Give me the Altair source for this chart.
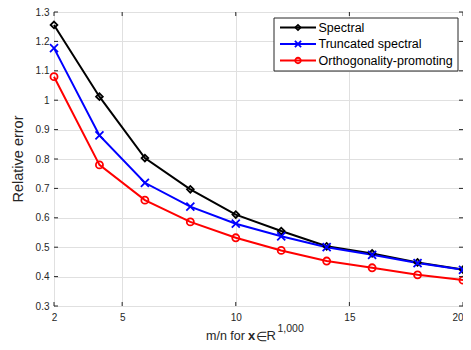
import altair as alt
import pandas as pd

# ---- data ----
ratios = [2, 4, 6, 8, 10, 12, 14, 16, 18, 20]
spectral = [1.256, 1.012, 0.803, 0.697, 0.611, 0.555, 0.503, 0.479, 0.448, 0.424]
truncated = [1.177, 0.880, 0.719, 0.638, 0.580, 0.537, 0.500, 0.474, 0.446, 0.423]
ortho = [1.080, 0.780, 0.660, 0.586, 0.532, 0.489, 0.453, 0.430, 0.406, 0.388]
series_names = ["Spectral", "Truncated spectral", "Orthogonality-promoting"]
series_colors = ["#000000", "#0000ff", "#ff0000"]
x_ticks = [2, 5, 10, 15, 20]
y_ticks = [0.3, 0.4, 0.5, 0.6, 0.7, 0.8, 0.9, 1.0, 1.1, 1.2, 1.3]

W, H = 409, 294
FONT = "Liberation Sans"
TXT = "#262626"
XSHAPE = "M-1,-1L1,1M-1,1L1,-1"
shapes = ["diamond", XSHAPE, "circle"]
sizes = [45, 64, 50]

rows = []
for name, vals in zip(series_names, [spectral, truncated, ortho]):
    for r, v in zip(ratios, vals):
        rows.append({"ratio": r, "error": v, "method": name})
df = pd.DataFrame(rows)

xscale = alt.Scale(domain=[2, 20], nice=False, zero=False)
yscale = alt.Scale(domain=[0.3, 1.3], nice=False, zero=False)
color = alt.Color("method:N", scale=alt.Scale(domain=series_names, range=series_colors), legend=None)

xaxis = alt.Axis(values=x_ticks, title=None, grid=True, gridColor="#e0e0e0", tickSize=0,
                 domain=False, labelColor=TXT, labelFont=FONT, labelFontSize=10,
                 labelPadding=6, labelFlush=False, labelOverlap=False, labelBound=False,
                 labelAlign={"condition": {"test": "datum.value == 20", "value": "right"},
                             "value": "center"})
yaxis = alt.Axis(values=y_ticks, title=None, grid=True, gridColor="#e0e0e0", tickSize=0,
                 domain=False, labelColor=TXT, labelFont=FONT, labelFontSize=10,
                 labelPadding=5, format=".1~f", labelOverlap=False, labelBound=False)

base = alt.Chart(df)
lines = base.mark_line(strokeWidth=2).encode(
    x=alt.X("ratio:Q", scale=xscale, axis=xaxis),
    y=alt.Y("error:Q", scale=yscale, axis=yaxis),
    color=color,
    order="ratio:Q",
)

point_layers = []
for name, col, shp, sz in zip(series_names, series_colors, shapes, sizes):
    pl = alt.Chart(df[df.method == name]).mark_point(
        filled=False, shape=shp, size=sz, strokeWidth=1.8, color=col, opacity=1
    ).encode(x=alt.X("ratio:Q", scale=xscale, axis=xaxis),
             y=alt.Y("error:Q", scale=yscale, axis=yaxis))
    point_layers.append(pl)

# inward ticks
ydf = pd.DataFrame({"v": y_ticks})
xdf = pd.DataFrame({"v": x_ticks})
tk = dict(color=TXT, strokeWidth=1)
tick_layers = [
    alt.Chart(ydf).mark_rule(**tk).encode(y=alt.Y("v:Q", scale=yscale, axis=yaxis), x=alt.value(0), x2=alt.value(4)),
    alt.Chart(ydf).mark_rule(**tk).encode(y=alt.Y("v:Q", scale=yscale, axis=yaxis), x=alt.value(W - 4), x2=alt.value(W)),
    alt.Chart(xdf).mark_rule(**tk).encode(x=alt.X("v:Q", scale=xscale, axis=xaxis), y=alt.value(H - 4), y2=alt.value(H)),
    alt.Chart(xdf).mark_rule(**tk).encode(x=alt.X("v:Q", scale=xscale, axis=xaxis), y=alt.value(0), y2=alt.value(4)),
]

one = pd.DataFrame({"a": [0]})

# y title
ytitle = alt.Chart(one).mark_text(text="Relative error", angle=270, font=FONT, fontSize=14.5,
                                  color=TXT, align="center", baseline="middle").encode(
    x=alt.value(-35), y=alt.value(H / 2))

# x title pieces
ty = H + 30
xt = [
    alt.Chart(one).mark_text(text="m/n for", font=FONT, fontSize=12.5, color=TXT, align="left",
                             baseline="middle").encode(x=alt.value(152), y=alt.value(ty)),
    alt.Chart(one).mark_text(text="x", font=FONT, fontSize=13, fontWeight="bold", color=TXT,
                             align="left", baseline="middle").encode(x=alt.value(194), y=alt.value(ty)),
    alt.Chart(one).mark_text(text="∈", font=FONT, fontSize=12.5, color=TXT, align="left",
                             baseline="middle").encode(x=alt.value(202), y=alt.value(ty + 0.5)),
    alt.Chart(one).mark_text(text="R", font=FONT, fontSize=13, color=TXT, align="left",
                             baseline="middle").encode(x=alt.value(212.5), y=alt.value(ty)),
    alt.Chart(one).mark_text(text="1,000", font=FONT, fontSize=10.5, color=TXT, align="left",
                             baseline="middle").encode(x=alt.value(223.5), y=alt.value(ty - 7)),
]

# legend
bx0, bx1, by0, by1 = 220, 404, 6, 59
legend_layers = [
    alt.Chart(one).mark_rect(fill="white", stroke=TXT, strokeWidth=1).encode(
        x=alt.value(bx0), x2=alt.value(bx1), y=alt.value(by0), y2=alt.value(by1))
]
for i, (name, col, shp, sz) in enumerate(zip(series_names, series_colors, shapes, sizes)):
    yy = 15.5 + i * 16.5
    legend_layers.append(alt.Chart(one).mark_rule(color=col, strokeWidth=2).encode(
        x=alt.value(226), x2=alt.value(262), y=alt.value(yy)))
    legend_layers.append(alt.Chart(one).mark_point(filled=False, shape=shp, size=sz * 0.6,
                                                   strokeWidth=1.8, color=col, opacity=1).encode(
        x=alt.value(244), y=alt.value(yy)))
    legend_layers.append(alt.Chart(one).mark_text(text=name, font=FONT, fontSize=12.5, color="#000000",
                                                  align="left", baseline="middle").encode(
        x=alt.value(264.5), y=alt.value(yy)))

chart = alt.layer(lines, *point_layers, *tick_layers, ytitle, *xt, *legend_layers).properties(
    width=W, height=H,
    autosize=alt.AutoSizeParams(type="none"),
    padding={"left": 46, "top": 4, "right": 0, "bottom": 36},
    background="white",
).configure_view(stroke=TXT, strokeWidth=1).configure_axis(labelOverlap=False)

chart.save("out.html", embed_options={"renderer": "svg", "actions": False})
